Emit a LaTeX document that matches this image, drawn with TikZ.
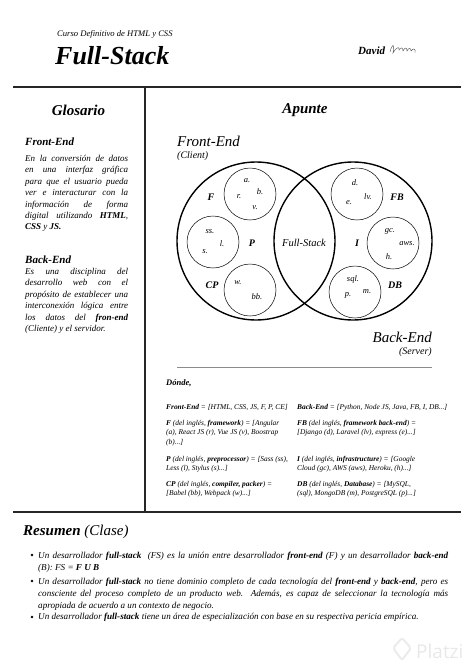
\documentclass[tikz,border=0pt]{standalone}
\usepackage{fontspec}
\setmainfont{Liberation Serif}
\newfontfamily\logofont{Open Sans}
\usetikzlibrary{positioning}

\tikzset{
  heading/.style={font=\fontsize{15}{18}\selectfont\bfseries\itshape, inner sep=0pt},
  subhead/.style={font=\fontsize{11}{13}\selectfont\bfseries\itshape, inner sep=0pt, anchor=west},
  gloss/.style={anchor=north west, inner sep=0pt, text width=103pt, align=justify,
    font=\fontsize{9}{11.4}\selectfont\itshape},
  bigset/.style={circle, draw, line width=1.4pt, minimum size=158pt, inner sep=0pt},
  techset/.style={circle, draw, line width=0.5pt, minimum size=52pt, inner sep=0pt},
  group/.style={font=\fontsize{10}{12}\selectfont\bfseries\itshape, inner sep=0pt},
  abbr/.style={font=\fontsize{8.5}{10}\selectfont\itshape, inner sep=0pt},
  side/.style={font=\fontsize{15}{18}\selectfont\itshape, inner sep=0pt},
  sidenote/.style={font=\fontsize{10}{12}\selectfont\itshape, inner sep=0pt},
  defn/.style={anchor=north west, inner sep=0pt, align=left,
    font=\fontsize{7.4}{9.3}\selectfont\itshape},
  point/.style={anchor=north west, inner sep=0pt, text width=410pt, align=justify,
    font=\fontsize{9.1}{12.2}\selectfont\itshape},
}

\begin{document}
\begin{tikzpicture}[x=1pt,y=-1pt]
  \useasboundingbox (0,0) rectangle (474,670);

  % header
  \node[font=\fontsize{8.6}{10}\selectfont\itshape, inner sep=0pt, anchor=west] (course) at (57,34) {Curso Definitivo de HTML y CSS};
  \node[font=\fontsize{26}{30}\selectfont\bfseries\itshape, inner sep=0pt, anchor=west] (title) at (55,56) {Full-Stack};
  \node[font=\fontsize{11}{13}\selectfont\bfseries\itshape, inner sep=0pt, anchor=west] (author) at (358,51) {David};
  \draw[line width=0.4pt, black!70] (390,52) .. controls (392,44) and (395,42) .. (393,53)
    .. controls (396,47) and (400,46) .. (399,50) .. controls (401,47) and (403,47) .. (403,51)
    .. controls (405,47) and (407,47) .. (407,51) .. controls (409,47) and (411,48) .. (411,51)
    .. controls (413,48) and (416,48) .. (415,53);

  % frame
  \draw[line width=2pt, black!85] (13,87) -- (461,87);
  \draw[line width=2pt, black!85] (145,87) -- (145,512);
  \draw[line width=2pt, black!85] (13,512) -- (461,512);

  % Glosario
  \node[heading] (glos) at (78.5,110) {Glosario};
  \node[subhead] (gfe) at (25,142) {Front-End};
  \node[gloss] (gfetext) at (25,155) {En la conversión de datos\linebreak
    en una interfaz gráfica\linebreak para que el usuario pueda\linebreak
    ver e interacturar con la\linebreak información de forma\linebreak
    digital utilizando \textbf{HTML},\linebreak \textbf{CSS} y \textbf{JS.}};
  \node[subhead] (gbe) at (25,260) {Back-End};
  \node[gloss] (gbetext) at (25,268) {Es una disciplina del\linebreak
    desarrollo web con el\linebreak propósito de establecer una\linebreak
    interconexión lógica entre\linebreak los datos del \textbf{fron-end}\linebreak
    (Cliente) y el servidor.};

  % Apunte
  \node[heading] (apunte) at (305,110) {Apunte};
  \node[side, anchor=west] (fe) at (177,141) {Front-End};
  \node[sidenote, anchor=west] (client) at (177,156) {(Client)};
  \node[side, anchor=east] (be) at (432,337) {Back-End};
  \node[sidenote, anchor=east] (server) at (432,352) {(Server)};

  \node[bigset] (front) at (256,241) {};
  \node[bigset] (back) at (353,241) {};
  \node[font=\fontsize{10.5}{12}\selectfont\itshape, inner sep=0pt] (fs) at (304,243) {Full-Stack};

  % front-end groups
  \node[techset] (fw) at (250,194) {};
  \node[techset] (pre) at (213,242) {};
  \node[techset] (cp) at (250,290) {};
  \node[group] (gF) at (211,197) {F};
  \node[group] (gP) at (252,243) {P};
  \node[group] (gCP) at (212,285) {CP};
  \node[abbr] at (247,181) {a.};
  \node[abbr] at (260,192) {b.};
  \node[abbr] at (239,197) {r.};
  \node[abbr] at (255,208) {v.};
  \node[abbr] at (210,232) {ss.};
  \node[abbr] at (222,244) {l.};
  \node[abbr] at (205,252) {s.};
  \node[abbr] at (238,283) {w.};
  \node[abbr] at (257,297) {bb.};

  % back-end groups
  \node[techset] (fbw) at (357,194) {};
  \node[techset] (inf) at (393,243) {};
  \node[techset] (db) at (355,292) {};
  \node[group] (gFB) at (397,197) {FB};
  \node[group] (gI) at (357,243) {I};
  \node[group] (gDB) at (395,285) {DB};
  \node[abbr] at (355,183) {d.};
  \node[abbr] at (368,197) {lv.};
  \node[abbr] at (349,203) {e.};
  \node[abbr] at (390,231) {gc.};
  \node[abbr] at (407,244) {aws.};
  \node[abbr] at (389,257) {h.};
  \node[abbr] at (353,279) {sql.};
  \node[abbr] at (348,295) {p.};
  \node[abbr] at (367,292) {m.};

  \draw[line width=0.8pt, black!45] (177,367) -- (432,367);

  % Donde
  \node[font=\fontsize{8.5}{10}\selectfont\bfseries\itshape, inner sep=0pt, anchor=west] (donde) at (166,383) {Dónde,};
  \node[defn] (dfe) at (166,404) {\textbf{Front-End} = [HTML, CSS, JS, F, P, CE]};
  \node[defn] (dF) at (166,420) {\textbf{F} (del inglés, \textbf{framework}) = [Angular\\
    (a), React JS (r), Vue JS (v), Boostrap\\(b)...]};
  \node[defn] (dP) at (166,456) {\textbf{P} (del inglés, \textbf{preprocessor}) = [Sass (ss),\\
    Less (l), Stylus (s)...]};
  \node[defn] (dCP) at (166,481) {\textbf{CP} (del inglés, \textbf{compiler, packer}) =\\
    {[}Babel (bb), Webpack (w)...]};
  \node[defn] (dbe) at (297,404) {\textbf{Back-End} = [Python, Node JS, Java, FB, I, DB...]};
  \node[defn] (dFB) at (297,420) {\textbf{FB} (del inglés, \textbf{framework back-end}) =\\
    {[}Django (d), Laravel (lv), express (e)...]};
  \node[defn] (dI) at (297,456) {\textbf{I} (del inglés, \textbf{infrastructure}) = [Google\\
    Cloud (gc), AWS (aws), Heroku, (h)...]};
  \node[defn] (dDB) at (297,481) {\textbf{DB} (del inglés, \textbf{Database}) = [MySQL,\\
    (sql), MongoDB (m), PostgreSQL (p)...]};

  % Resumen
  \node[font=\fontsize{15}{18}\selectfont\itshape, inner sep=0pt, anchor=west] (resumen) at (23,532)
    {\textbf{Resumen} (Clase)};
  \foreach \y in {555,581,617}
    \fill (32,\y) circle[radius=1.4pt];
  \node[point] (p1) at (38,551.5) {Un desarrollador \textbf{full-stack}\ \ (FS) es la unión entre
    desarrollador \textbf{front-end} (F) y un desarrollador \textbf{back-end}\linebreak
    (B): FS = \textbf{F U B}};
  \node[point] (p2) at (38,577.5) {Un desarrollador \textbf{full-stack} no tiene dominio completo
    de cada tecnología del \textbf{front-end} y \textbf{back-end}, pero es\linebreak
    consciente del proceso completo de un producto web. Además, es capaz de seleccionar la
    tecnología más\linebreak apropiada de acuerdo a un contexto de negocio.};
  \node[point] (p3) at (38,613) {Un desarrollador \textbf{full-stack} tiene un área de
    especialización con base en su respectiva pericia empírica.};

  % watermark
  \draw[line width=2pt, black!8, rounded corners=2pt] (402,638) -- (411,648) -- (402,660) -- (393,648) -- cycle;
  \node[font=\logofont\fontsize{19}{22}\selectfont, text=black!9, inner sep=0pt, anchor=west] (platzi) at (416,651) {Platzi};
\end{tikzpicture}
\end{document}
